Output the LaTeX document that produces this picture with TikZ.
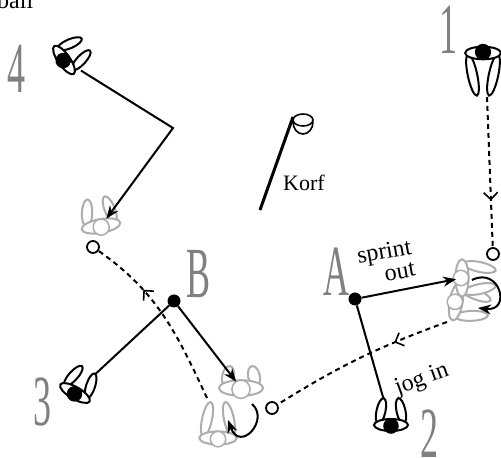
\documentclass[tikz,border=0pt]{standalone}
\usepackage{graphicx}
\usepackage{fontspec}
\newfontfamily\notefont{Liberation Serif}
\usetikzlibrary{arrows.meta,decorations.markings}

% tall grey letters for the players
\newcommand{\tall}[1]{\scalebox{0.5}[1]{\notefont\fontsize{72}{72}\selectfont #1}}

% a player seen from above: #1 outline, #2 head, #3 leg length
\newcommand{\figurine}[3]{%
  \draw[#1, fill=white, line width=2pt, rotate around={12:(-10,{-1-#3/2})}]
    (-10,{-1-#3/2}) ellipse [x radius=4.5, y radius={#3/2}];
  \draw[#1, fill=white, line width=2pt, rotate around={-12:(10,{-1-#3/2})}]
    (10,{-1-#3/2}) ellipse [x radius=4.5, y radius={#3/2}];
  \draw[#1, fill=white, line width=2pt] (0,0) ellipse [x radius=17, y radius=6];
  \draw[#1, fill=#2, line width=1.5pt] (0,1) circle [radius=7];
}

\tikzset{
  pics/player/.style={code={\figurine{black}{black}{#1}}},
  pics/player/.default=26,
  pics/ghost/.style={code={\figurine{black!32}{white}{#1}}},
  pics/ghost/.default=26,
  run/.style={line width=2pt, -{Stealth[length=13pt,width=10pt]}},
  line/.style={line width=2pt},
  throw/.style={line width=2pt, dash pattern=on 5pt off 4pt,
    decoration={markings, mark=at position #1 with
      {\arrow{Straight Barb[length=7pt,width=14pt,line width=1.6pt]}}},
    postaction={decorate}},
  dot/.style={circle, fill=black, inner sep=0pt, minimum size=13pt},
  ring/.style={circle, draw, fill=white, line width=1.8pt, inner sep=0pt, minimum size=12pt},
  tag/.style={text=black!50, inner sep=0pt},
  note/.style={font=\notefont\fontsize{24}{22}\selectfont, inner sep=0pt}
}

\begin{document}
\begin{tikzpicture}[x=1pt, y=1pt]
  \useasboundingbox (0,0) rectangle (501,458);

  % ball, cut at the top
  \node[note, anchor=base west] (ball) at (-3,449) {ball};

  % korf
  \draw[line width=3pt] (260,248) -- (293,341);
  \draw[line width=1.6pt] (303,338) ellipse [x radius=10, y radius=6];
  \draw[line width=1.6pt] (293,336) arc [start angle=180, end angle=360, x radius=10, y radius=12];
  \node[note, font=\notefont\fontsize{22}{22}\selectfont] (korf) at (304,275) {Korf};

  % where the players end up
  \coordinate (g4) at (101,232);
  \coordinate (gB) at (241,70);
  \coordinate (g1) at (462,180);
  \pic[rotate=190, scale=1.15] at (g4) {ghost=24};
  \pic[rotate=180, scale=1.1] at (218,20) {ghost=32};
  \pic[rotate=180, scale=1.3] at (gB) {ghost=16};
  \pic[rotate=80, scale=1.1] at (456,156) {ghost=30};
  \pic[rotate=90, scale=1.1] at (g1) {ghost=30};

  % balls
  \node[ring] (c1) at (493,204) {};
  \node[ring] (cB) at (272,50) {};
  \node[ring] (c4) at (93,211) {};

  % passes
  \coordinate (s1) at (487,361);
  \coordinate (s2) at (447,136);
  \coordinate (s3) at (207,60);
  \draw[throw=0.69] (s1) -- (c1);
  \draw[throw=0.3] (s2) to[bend right=6] (cB);
  \draw[throw=0.68] (s3) to[out=115, in=-35] (c4);

  % players
  \coordinate (p1) at (483,405);
  \coordinate (p2) at (391,33);
  \coordinate (p3) at (75,65);
  \coordinate (p4) at (64,398);
  \node[dot] (A) at (355,159) {};
  \node[dot] (B) at (174,157) {};

  % runs
  \coordinate (k4) at (173,330);
  \draw[run, shorten <=20pt, shorten >=9pt] (p4) -- (k4) -- (g4);
  \draw[run, shorten >=6pt] (A) -- (g1);
  \draw[line, shorten >=20pt] (A) -- (p2);
  \draw[run, shorten >=8pt] (B) -- (gB);
  \draw[line, shorten >=20pt] (B) -- (p3);

  % turns on the spot
  \draw[run] (252,54) .. controls (270,38) and (240,5) .. (228,38);
  \draw[run] (472,178) .. controls (500,192) and (512,146) .. (478,150);

  \pic[scale=1.05] at (p1) {player=40};
  \pic[rotate=180] at (p2) {player};
  \pic[rotate=150] at (p3) {player};
  \pic[rotate=125] at (p4) {player};

  \node[note, rotate=10, align=right] (sprint) at (386,196) {sprint\\out};
  \node[note, rotate=20] (jog) at (422,78) {jog in};

  \node[tag] (n1) at (448,428) {\tall{1}};
  \node[tag] (n2) at (429,24) {\tall{2}};
  \node[tag] (n3) at (42,56) {\tall{3}};
  \node[tag] (n4) at (16,389) {\tall{4}};
  \node[tag] (nA) at (336,186) {\tall{A}};
  \node[tag] (nB) at (199,184) {\tall{B}};
\end{tikzpicture}
\end{document}
